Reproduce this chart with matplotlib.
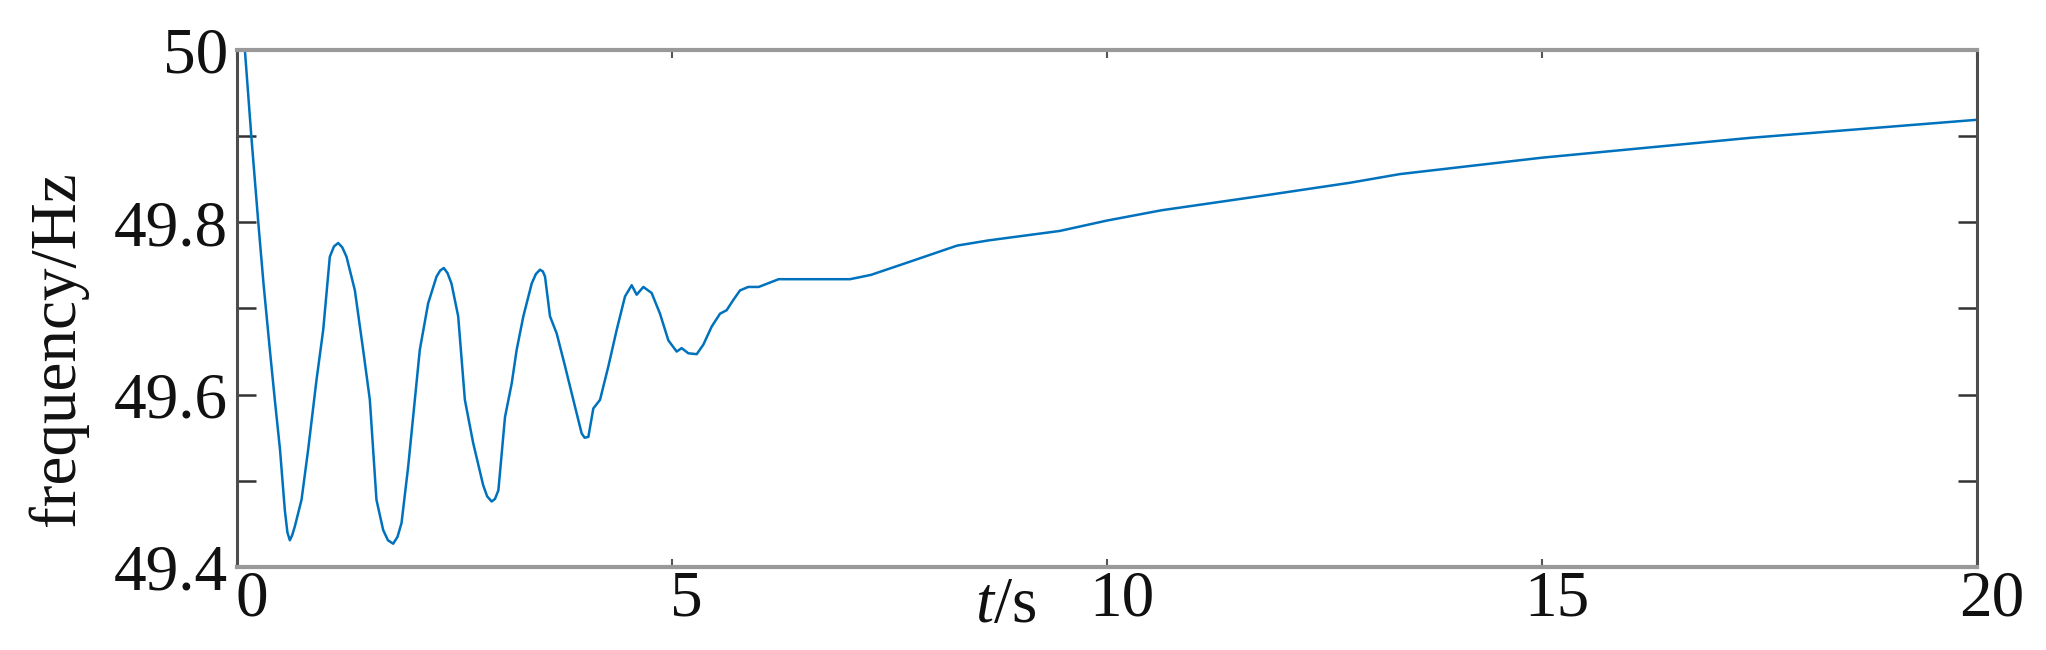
#!/usr/bin/env python3
"""
Frequency response after a disturbance (recreated plot)
"""

import matplotlib
matplotlib.use('Agg')
import matplotlib.pyplot as plt
from matplotlib.transforms import ScaledTranslation

# time (s) and frequency (Hz)
t = [0.0, 0.096, 0.17, 0.25, 0.31, 0.383, 0.44, 0.50, 0.555, 0.585, 0.613,
     0.64, 0.67, 0.747, 0.823, 0.919, 0.996, 1.072, 1.12, 1.168, 1.215,
     1.264, 1.36, 1.455, 1.532, 1.608, 1.685, 1.74, 1.80, 1.85, 1.896,
     1.972, 2.049, 2.106, 2.202, 2.298, 2.34, 2.382, 2.425, 2.47, 2.547,
     2.624, 2.719, 2.834, 2.88, 2.932, 2.97, 3.009, 3.085, 3.162, 3.219,
     3.296, 3.392, 3.44, 3.487, 3.52, 3.545, 3.602, 3.679, 3.775, 3.87,
     3.966, 4.00, 4.043, 4.10, 4.177, 4.273, 4.368, 4.464, 4.541, 4.598,
     4.675, 4.77, 4.866, 4.962, 5.058, 5.115, 5.192, 5.288, 5.364, 5.46,
     5.556, 5.632, 5.709, 5.786, 5.88, 6.0, 6.23, 7.05, 7.29, 7.70, 8.28,
     8.64, 9.46, 10.0, 10.63, 11.80, 12.80, 13.37, 15.0, 17.39, 20.0]
freq = [50.0, 50.0, 49.9, 49.8, 49.729, 49.652, 49.594, 49.536, 49.466,
        49.440, 49.431, 49.437, 49.447, 49.478, 49.536, 49.617, 49.675,
        49.760, 49.772, 49.776, 49.771, 49.760, 49.721, 49.652, 49.594,
        49.478, 49.443, 49.431, 49.427, 49.435, 49.451, 49.516, 49.594,
        49.652, 49.706, 49.737, 49.744, 49.747, 49.741, 49.729, 49.691,
        49.594, 49.544, 49.495, 49.482, 49.476, 49.479, 49.489, 49.574,
        49.613, 49.652, 49.691, 49.729, 49.740, 49.745, 49.743, 49.737,
        49.691, 49.671, 49.633, 49.594, 49.555, 49.550, 49.551, 49.584,
        49.594, 49.633, 49.675, 49.714, 49.727, 49.716, 49.725, 49.718,
        49.694, 49.663, 49.650, 49.654, 49.648, 49.647, 49.658, 49.679,
        49.694, 49.698, 49.710, 49.721, 49.725, 49.725, 49.734, 49.734,
        49.739, 49.753, 49.773, 49.779, 49.790, 49.802, 49.814, 49.831,
        49.846, 49.856, 49.875, 49.898, 49.919]

xticks = [0, 5, 10, 15, 20]
xtick_labels = ['0', '5', '10', '15', '20']
yticks = [49.4, 49.5, 49.6, 49.7, 49.8, 49.9, 50.0]
ytick_labels = ['49.4', '', '49.6', '', '49.8', '', '50']


def main():
    plt.rcParams['font.family'] = ['Liberation Serif', 'DejaVu Serif']
    plt.rcParams['mathtext.fontset'] = 'custom'
    plt.rcParams['mathtext.it'] = 'Liberation Serif:italic'
    plt.rcParams['mathtext.rm'] = 'Liberation Serif'

    fig = plt.figure(figsize=(20.46, 6.5), dpi=100)
    ax = fig.add_axes([0.1156, 0.1277, 0.8507, 0.7954])

    ax.plot(t, freq, color='#0072BD', linewidth=1.8)

    ax.set_xlim(0, 20)
    ax.set_ylim(49.4, 50.0)

    ax.set_xticks(xticks)
    ax.set_xticklabels(xtick_labels, fontsize=47, color='#111111')
    ax.set_yticks(yticks)
    ax.set_yticklabels(ytick_labels, fontsize=47, color='#111111')

    ax.tick_params(axis='y', which='major', direction='in', length=14,
                   width=1.8, color='#333333', left=True, right=True, pad=6)
    ax.tick_params(axis='x', which='major', direction='in', length=6,
                   width=1.5, color='#555555', top=True, bottom=True, pad=2)

    # nudge x tick labels to the right like the original
    shift = ScaledTranslation(15 / 100, 0, fig.dpi_scale_trans)
    for lab in ax.get_xticklabels():
        lab.set_transform(lab.get_transform() + shift)

    for side in ['top', 'bottom']:
        ax.spines[side].set_color('#999999')
        ax.spines[side].set_linewidth(3.0)
    for side in ['left', 'right']:
        ax.spines[side].set_color('#4d4d4d')
        ax.spines[side].set_linewidth(2.2)

    ax.text(0.442, -0.075, '$t$/s', transform=ax.transAxes, fontsize=47,
            ha='center', va='center', color='#111111')
    fig.text(58 / 2046, 1 - 349 / 650, 'frequency/Hz', rotation=90,
             fontsize=47, ha='center', va='center', color='#111111')

    fig.savefig('out.png', dpi=100)
    plt.close(fig)


if __name__ == "__main__":
    main()
